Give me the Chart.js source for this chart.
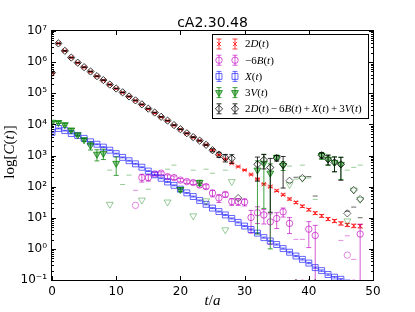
<!DOCTYPE html>
<html>
<head>
<meta charset="utf-8">
<script src="https://cdn.jsdelivr.net/npm/chart.js@4.4.1/dist/chart.umd.min.js"></script>
<style>
  html, body { margin: 0; padding: 0; background: #fff; }
</style>
</head>
<body>
<canvas id="corrChart" width="415" height="312"></canvas>
<script>
// time slices t/a
const tVals = [0, 1, 2, 3, 4, 5, 6, 7, 8, 9, 10, 11, 12, 13, 14, 15, 16, 17, 18, 19,
  20, 21, 22, 23, 24, 25, 26, 27, 28, 29, 30, 31, 32, 33, 34, 35, 36, 37, 38, 39,
  40, 41, 42, 43, 44, 45, 46, 47, 48];

// 2D(t)
const d2Val = [4.4e5, 4.0e6, 2.3e6, 1.4e6, 9.5e5, 6.8e5, 4.9e5, 3.5e5, 2.6e5, 1.9e5,
  1.4e5, 1.05e5, 7.8e4, 5.8e4, 4.3e4, 3.1e4, 2.3e4, 1.7e4, 1.3e4, 9.3e3,
  6.9e3, 5.1e3, 3.8e3, 3.0e3, 2.2e3, 1.5e3, 1.05e3, 760, 560, 440,
  340, 245, 174, 120, 100, 74, 55, 40, 31, 23.4,
  18.2, 14.1, 11.5, 9.1, 7.9, 6.6, 5.9, 5.5, 5.4];
const d2Err = [1.5e4, 8e4, 4.6e4, 2.8e4, 1.9e4, 1.4e4, 1.0e4, 7e3, 5.2e3, 3.8e3,
  2.8e3, 2.1e3, 1.6e3, 1.2e3, 900, 650, 480, 360, 270, 200,
  150, 110, 85, 70, 55, 40, 30, 24, 18, 15,
  12, 10, 8, 6.5, 5.5, 4.5, 3.5, 3, 2.5, 2,
  1.7, 1.4, 1.2, 1, 0.9, 0.8, 0.7, 0.7, 0.7];

// -6B(t), negative entries are plotted as |value| (hollow, faint)
const b6Val = [null, null, null, null, null, null, null, null, null, null,
  null, null, null, -25, 195, 195, 257, 270, 209, 195,
  162, 145, 135, 112, 100, 62, 43, 56, 33, 33,
  32, 10.2, 14.5, 12.3, 7.4, 9.5, 15.5, 6.6, -0.08, -0.08,
  4.3, 2.7, null, null, null, -0.08, -0.63, -0.08, 3.0];
const b6Err = [null, null, null, null, null, null, null, null, null, null,
  null, null, null, 101, 55, 45, 30, 30, 30, 25,
  20, 18, 18, 15, 15, 15, 12, 10, 8, 8,
  8, 7, 8, 6, 6, 5, 5, 3.5, 2.1, 2.1,
  3.2, 3, null, null, null, 1.95, 3.26, 0.54, 3.2];

// X(t)
const xVal = [5500, 7400, 6300, 5100, 4400, 3550, 2750, 2300, 1860, 1480,
  1150, 870, 680, 540, 420, 316, 240, 186, 141, 110,
  83, 63, 48, 36, 27, 20.4, 15.8, 12.3, 9.5, 7.1,
  5.4, 4.2, 3.2, 2.3, 1.8, 1.38, 1.02, 0.78, 0.59, 0.46,
  0.35, 0.25, 0.2, 0.15, 0.123, 0.105, 0.08, 0.063, 0.05];
const xErr = [170, 220, 190, 150, 130, 110, 85, 70, 56, 45,
  35, 27, 21, 17, 13, 10, 8, 6, 4.5, 3.5,
  2.7, 2.1, 1.6, 1.2, 0.9, 0.7, 0.55, 0.43, 0.34, 0.26,
  0.2, 0.16, 0.12, 0.09, 0.07, 0.055, 0.042, 0.033, 0.026, 0.02,
  0.016, 0.012, 0.01, 0.008, 0.0066, 0.0057, 0.0045, 0.0036, 0.003];

// 3V(t)
const v3Val = [11700, 11500, 9800, 6600, 4600, 3200, 2100, 1100, 1170, -27,
  560, -0.08, -0.08, null, -37, -0.08, null, null, -32, -0.08,
  81, null, -11.5, 135, -35, -0.08, null, -4.1, -145, null,
  null, null, 340, 560, 270, 870, 480, -117, -0.08, -186,
  -0.08, -0.08, 1000, 760, 600, 520, -7.9, -78, -39];
const v3Err = [700, 900, 900, 700, 400, 300, 600, 430, 430, 366,
  330, 117, 234, null, 30, 83, null, null, 395, 490,
  12, null, 350, 25, 398, 270, null, 343, 100, null,
  null, null, 337, 540, 269, 150, 150, 574, 174, 676,
  190, 39, 250, 280, 300, 350, 347, 495, 529];

// 2D(t) - 6B(t) + X(t) + 3V(t)
const sumVal = [4.6e5, 4.0e6, 2.3e6, 1.4e6, 9.6e5, 6.9e5, 5.0e5, 3.55e5, 2.65e5, 1.9e5,
  1.42e5, 1.07e5, 7.9e4, 5.9e4, 4.4e4, 3.2e4, 2.4e4, 1.75e4, 1.32e4, 9.5e3,
  7.0e3, 5.2e3, 3.9e3, 3.0e3, 2.2e3, 1.48e3, 1.07e3, 850, 810, -43,
  null, null, 520, 720, 410, 830, 510, -155, -0.08, -190,
  -0.08, -0.08, 1020, 760, 600, 520, -13.8, -78, -40];
const sumErr = [1.5e4, 8e4, 4.6e4, 2.8e4, 1.9e4, 1.4e4, 1.0e4, 7e3, 5.2e3, 3.8e3,
  2.8e3, 2.1e3, 1.6e3, 1.2e3, 900, 650, 480, 360, 270, 200,
  160, 130, 110, 100, 90, 160, 200, 230, 250, 30,
  null, null, 370, 350, 395, 170, 420, 100, 200, 100,
  210, 50, 200, 260, 300, 360, 30, 100, 50];

const legendLabels = ['2D(t)', '−6B(t)', 'X(t)', '3V(t)', '2D(t)−6B(t)+X(t)+3V(t)'];
const xTickVals = [0, 10, 20, 30, 40, 50];
const xTickLabels = ['0', '10', '20', '30', '40', '50'];
const yTickVals = [0.1, 1, 10, 100, 1e3, 1e4, 1e5, 1e6, 1e7];
const yTickLabels = ['10⁻¹', '10⁰', '10¹', '10²', '10³', '10⁴', '10⁵', '10⁶', '10⁷'];
const titleText = 'cA2.30.48';

const SERIES = [
  { vals: d2Val, errs: d2Err, style: 'crossRot', r: 3, rot: 0, color: 'rgba(255,0,0,0.75)', faint: 'rgba(255,0,0,0.3)', fill: false, order: 10 },
  { vals: b6Val, errs: b6Err, style: 'circle', r: 3.2, rot: 0, color: 'rgba(191,0,191,0.65)', faint: 'rgba(191,0,191,0.45)', fill: false, order: 8 },
  { vals: xVal, errs: xErr, style: 'rect', r: 4.2, rot: 0, color: 'rgba(0,0,255,0.6)', faint: 'rgba(0,0,255,0.3)', fill: false, order: 6 },
  { vals: v3Val, errs: v3Err, style: 'triangle', r: 4, rot: 180, color: 'rgba(0,128,0,0.75)', faint: 'rgba(0,128,0,0.4)', fill: true, order: 4 },
  { vals: sumVal, errs: sumErr, style: 'rectRot', r: 3.6, rot: 0, color: 'rgba(0,0,0,0.8)', faint: 'rgba(0,0,0,0.6)', fill: false, order: 2 },
];

function buildSets(s) {
  const pos = [];
  const neg = [];
  s.vals.forEach((v, i) => {
    if (v === null) return;
    if (v > 0) pos.push({ x: tVals[i], y: v, e: s.errs[i] });
    else neg.push({ x: tVals[i], y: -v, e: s.errs[i] });
  });
  const common = { pointStyle: s.style, pointRadius: s.r, pointRotation: s.rot, borderWidth: 1, showLine: false, clip: 0 };
  return [
    Object.assign({}, common, {
      data: pos, order: s.order, errMode: 'pos', barColor: s.color,
      borderColor: s.color, backgroundColor: s.fill ? 'rgba(0,128,0,0.45)' : 'rgba(0,0,0,0)',
    }),
    Object.assign({}, common, {
      data: neg, order: s.order - 1, errMode: 'neg', barColor: s.faint,
      borderColor: s.faint, backgroundColor: 'rgba(0,0,0,0)',
    }),
  ];
}

const datasets = [];
SERIES.forEach((s) => datasets.push(...buildSets(s)));

const CAP = 2.5;

const errorBars = {
  id: 'errorBars',
  beforeDatasetDraw(chart, args) {
    const ds = chart.data.datasets[args.index];
    if (!ds.errMode) return;
    const { ctx, chartArea: a, scales } = chart;
    ctx.save();
    ctx.beginPath();
    ctx.rect(a.left, a.top, a.right - a.left, a.bottom - a.top);
    ctx.clip();
    ctx.strokeStyle = ds.barColor;
    ctx.lineWidth = 1;
    ctx.beginPath();
    ds.data.forEach((p) => {
      if (p.e === null || p.e === undefined) return;
      const px = scales.x.getPixelForValue(p.x);
      if (ds.errMode === 'pos') {
        const hi = scales.y.getPixelForValue(p.y + p.e);
        const lo = p.y - p.e > 0 ? scales.y.getPixelForValue(p.y - p.e) : a.bottom + 5;
        ctx.moveTo(px, hi);
        ctx.lineTo(px, lo);
        ctx.moveTo(px - CAP, hi);
        ctx.lineTo(px + CAP, hi);
        if (p.y - p.e > 0) {
          ctx.moveTo(px - CAP, lo);
          ctx.lineTo(px + CAP, lo);
        }
      } else {
        // negative value: only the upper cap of its bar reaches the log axis
        const top = p.e - p.y;
        if (top > 0) {
          const cy = scales.y.getPixelForValue(top);
          ctx.moveTo(px - CAP, cy);
          ctx.lineTo(px + CAP, cy);
        }
      }
    });
    ctx.stroke();
    ctx.restore();
  },
};

function markerPath(ctx, style, x, y, r) {
  ctx.beginPath();
  if (style === 'crossRot') {
    const d = r * Math.SQRT1_2;
    ctx.moveTo(x - d, y - d); ctx.lineTo(x + d, y + d);
    ctx.moveTo(x - d, y + d); ctx.lineTo(x + d, y - d);
  } else if (style === 'circle') {
    ctx.arc(x, y, r, 0, Math.PI * 2);
  } else if (style === 'rect') {
    const s = r * Math.SQRT1_2;
    ctx.rect(x - s, y - s, 2 * s, 2 * s);
  } else if (style === 'rectRot') {
    ctx.moveTo(x, y - r); ctx.lineTo(x + r, y); ctx.lineTo(x, y + r); ctx.lineTo(x - r, y); ctx.closePath();
  } else if (style === 'triangle') {
    ctx.moveTo(x, y + r);
    ctx.lineTo(x + r * Math.sin(Math.PI / 3), y - r / 2);
    ctx.lineTo(x - r * Math.sin(Math.PI / 3), y - r / 2);
    ctx.closePath();
  }
}

// draw text where latin letters are italic (math style)
function mathWidth(ctx, runs, size) {
  let w = 0;
  runs.forEach((r) => {
    ctx.font = (r.it ? 'italic ' : '') + size + 'px "Liberation Serif"';
    w += ctx.measureText(r.ch).width + 2 * r.pad;
  });
  return w;
}
function drawMath(ctx, runs, x, y, size) {
  runs.forEach((r) => {
    ctx.font = (r.it ? 'italic ' : '') + size + 'px "Liberation Serif"';
    x += r.pad;
    ctx.fillText(r.ch, x, y);
    x += ctx.measureText(r.ch).width + r.pad;
  });
}
function toRuns(text, opPad) {
  return [...text].map((ch, i) => ({
    ch,
    it: /[A-Za-z]/.test(ch),
    pad: (ch === '+' || ch === '−') && i > 0 ? opPad : 0,
  }));
}

const frame = {
  id: 'frame',
  afterDatasetsDraw(chart) {
    const { ctx, chartArea: a, scales } = chart;
    ctx.save();
    ctx.strokeStyle = '#000';
    ctx.lineWidth = 1;
    ctx.beginPath();
    xTickVals.forEach((v) => {
      const px = Math.round(scales.x.getPixelForValue(v)) + 0.5;
      ctx.moveTo(px, a.bottom); ctx.lineTo(px, a.bottom - 4);
      ctx.moveTo(px, a.top); ctx.lineTo(px, a.top + 4);
    });
    yTickVals.forEach((v, i) => {
      const py = Math.round(scales.y.getPixelForValue(v)) + 0.5;
      ctx.moveTo(a.left, py); ctx.lineTo(a.left + 4, py);
      ctx.moveTo(a.right, py); ctx.lineTo(a.right - 4, py);
      if (i < yTickVals.length - 1) {
        for (let m = 2; m <= 9; m++) {
          const my = Math.round(scales.y.getPixelForValue(v * m)) + 0.5;
          ctx.moveTo(a.left, my); ctx.lineTo(a.left + 2, my);
          ctx.moveTo(a.right, my); ctx.lineTo(a.right - 2, my);
        }
      }
    });
    ctx.stroke();
    ctx.strokeRect(Math.round(a.left) - 0.5, Math.round(a.top) - 0.5,
      Math.round(a.right - a.left) + 1, Math.round(a.bottom - a.top) + 1);
    ctx.restore();
  },
};

const legendBox = {
  id: 'legendBox',
  afterDraw(chart) {
    const ctx = chart.ctx;
    ctx.save();
    ctx.fillStyle = '#fff';
    ctx.strokeStyle = '#000';
    ctx.lineWidth = 1;
    ctx.fillRect(212.5, 34.5, 156, 84);
    ctx.strokeRect(212.5, 34.5, 156, 84);
    SERIES.forEach((s, i) => {
      const y = 44 + i * 16.2;
      [219, 235].forEach((x) => {
        ctx.strokeStyle = s.color;
        ctx.beginPath();
        ctx.moveTo(x, y - 5); ctx.lineTo(x, y + 5);
        ctx.moveTo(x - CAP, y - 5); ctx.lineTo(x + CAP, y - 5);
        ctx.moveTo(x - CAP, y + 5); ctx.lineTo(x + CAP, y + 5);
        ctx.stroke();
        markerPath(ctx, s.style, x, y, s.r);
        if (s.fill) { ctx.fillStyle = 'rgba(0,128,0,0.45)'; ctx.fill(); }
        ctx.stroke();
      });
      ctx.fillStyle = '#000';
      ctx.textBaseline = 'middle';
      drawMath(ctx, toRuns(legendLabels[i], 2), 245, y + 0.5, 11);
    });
    ctx.restore();
  },
};

const texts = {
  id: 'texts',
  afterDraw(chart) {
    const { ctx, chartArea: a } = chart;
    ctx.save();
    ctx.fillStyle = '#000';
    ctx.textAlign = 'center';
    ctx.textBaseline = 'alphabetic';
    ctx.font = '14px "DejaVu Sans"';
    ctx.fillText(titleText, (a.left + a.right) / 2, 27);

    ctx.textAlign = 'left';
    ctx.textBaseline = 'middle';
    const xl = [{ ch: 't', it: true, pad: 0 }, { ch: '/', it: false, pad: 0 }, { ch: 'a', it: true, pad: 0 }];
    const xw = mathWidth(ctx, xl, 15);
    drawMath(ctx, xl, (a.left + a.right) / 2 - xw / 2, 301, 15);

    const yl = [
      { ch: 'log', it: false, pad: 0 }, { ch: '[', it: false, pad: 0 },
      { ch: 'C', it: true, pad: 0 }, { ch: '(', it: false, pad: 0 },
      { ch: 't', it: true, pad: 0 }, { ch: ')]', it: false, pad: 0 },
    ];
    const yw = mathWidth(ctx, yl, 15);
    ctx.translate(10, 152);
    ctx.rotate(-Math.PI / 2);
    drawMath(ctx, yl, -yw / 2, 0, 15);
    ctx.restore();
  },
};

const chart = new Chart(document.getElementById('corrChart').getContext('2d'), {
  type: 'scatter',
  data: { datasets },
  options: {
    responsive: false,
    animation: false,
    events: [],
    layout: { padding: { top: 31, right: 42, left: 0, bottom: 0 } },
    plugins: { legend: { display: false }, tooltip: { enabled: false } },
    scales: {
      x: {
        type: 'linear',
        min: 0,
        max: 50,
        afterBuildTicks: (s) => { s.ticks = xTickVals.map((v) => ({ value: v })); },
        afterFit: (s) => { s.height = 32; },
        grid: { display: false, drawTicks: false },
        border: { display: false },
        ticks: {
          color: '#000',
          padding: 5,
          maxRotation: 0,
          font: { family: 'DejaVu Sans', size: 12 },
          callback: (v, i) => xTickLabels[i],
        },
      },
      y: {
        type: 'logarithmic',
        min: 0.1,
        max: 1e7,
        afterBuildTicks: (s) => { s.ticks = yTickVals.map((v) => ({ value: v })); },
        afterFit: (s) => { s.width = 52; },
        grid: { display: false, drawTicks: false },
        border: { display: false },
        ticks: {
          color: '#000',
          padding: 5,
          autoSkip: false,
          font: { family: 'DejaVu Sans', size: 12 },
          callback: (v, i) => yTickLabels[i],
        },
      },
    },
  },
  plugins: [errorBars, frame, legendBox, texts],
});
</script>
</body>
</html>
